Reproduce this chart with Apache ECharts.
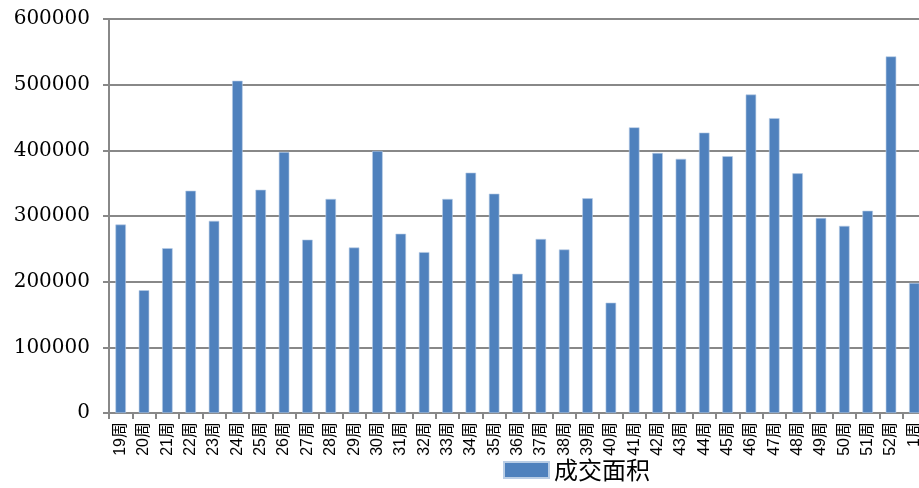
<!DOCTYPE html>
<html>
<head>
<meta charset="utf-8">
<script src="https://cdn.jsdelivr.net/npm/echarts@6/dist/echarts.min.js"></script>
<style>
  html, body { margin: 0; padding: 0; background: #fff; overflow: hidden; }
  #chart { width: 926px; height: 488px; }
</style>
</head>
<body>
<div id="chart"></div>
<script>
const weeks = ['19周', '20周', '21周', '22周', '23周', '24周', '25周', '26周', '27周', '28周',
  '29周', '30周', '31周', '32周', '33周', '34周', '35周', '36周', '37周', '38周',
  '39周', '40周', '41周', '42周', '43周', '44周', '45周', '46周', '47周', '48周',
  '49周', '50周', '51周', '52周', '1周'];
const area = [287000, 187000, 251000, 338500, 292600, 506000, 340000, 397400, 264000, 326000,
  252000, 399000, 273000, 245000, 326000, 366000, 334000, 212000, 265000, 249000,
  327000, 168000, 435000, 396000, 387000, 427000, 391000, 485000, 449000, 365000,
  297000, 285000, 308000, 543000, 198000];
const seriesName = '成交面积';

// plot runs a little past the right edge of the 919px window, as in the source image
const myChart = echarts.init(document.getElementById('chart'));
const option = {
  animation: false,
  legend: {
    data: [seriesName],
    left: 498,
    bottom: 1,
    icon: 'rect',
    itemWidth: 45,
    itemHeight: 16,
    itemGap: 9,
    textStyle: {
      fontFamily: '"Noto Sans CJK SC"',
      fontSize: 24,
      color: '#000'
    }
  },
  grid: {
    left: 109,
    top: 19,
    bottom: 75,
    right: 0
  },
  xAxis: {
    type: 'category',
    data: weeks,
    axisLine: { lineStyle: { color: '#888', width: 2 } },
    axisTick: { show: true, length: 6, lineStyle: { color: '#888', width: 2 } },
    axisLabel: {
      rotate: 90,
      interval: 0,
      margin: 9,
      fontFamily: '"Liberation Sans", "Noto Sans CJK SC"',
      fontSize: 16,
      color: '#000'
    }
  },
  yAxis: {
    type: 'value',
    min: 0,
    max: 600000,
    interval: 100000,
    axisLine: { show: true, lineStyle: { color: '#888', width: 2 } },
    axisTick: { show: true, length: 6, lineStyle: { color: '#888', width: 2 } },
    splitLine: { lineStyle: { color: '#888', width: 2 } },
    axisLabel: {
      margin: 19,
      fontFamily: '"DejaVu Serif"',
      fontSize: 20,
      color: '#000',
      formatter: function (v) { return String(v); }
    }
  },
  series: [
    {
      name: seriesName,
      type: 'bar',
      data: area,
      barWidth: '45%',
      itemStyle: {
        color: '#4f81bd',
        borderColor: '#b9cde5',
        borderWidth: 0.6
      }
    }
  ]
};
option && myChart.setOption(option);
</script>
</body>
</html>
